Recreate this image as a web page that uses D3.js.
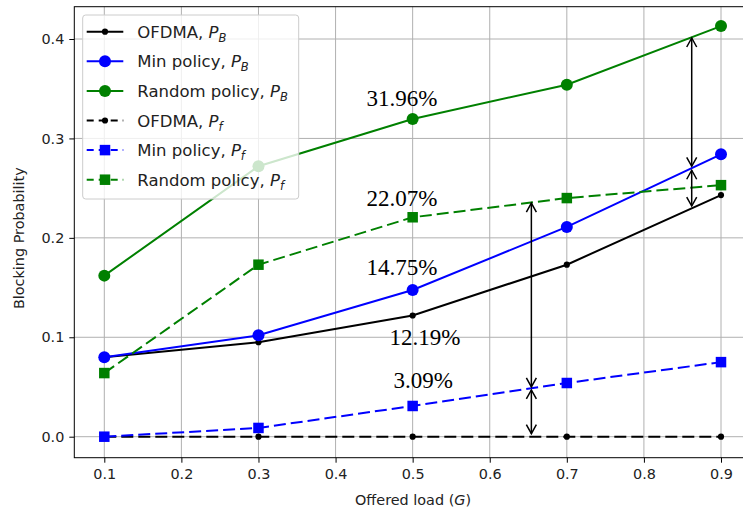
<!DOCTYPE html>
<html>
<head>
<meta charset="utf-8">
<script src="https://cdn.jsdelivr.net/npm/d3@7"></script>
<style>
  body { margin: 0; background: #fff; }
  svg { display: block; }
</style>
</head>
<body>
<svg id="chart" width="743" height="510"></svg>
<script>
// data
const loads = [0.1, 0.3, 0.5, 0.7, 0.9];
const ofdmaPB = [0.080, 0.095, 0.1219, 0.173, 0.243];
const minPB = [0.080, 0.102, 0.1475, 0.211, 0.284];
const randomPB = [0.162, 0.272, 0.3196, 0.354, 0.413];
const ofdmaPf = [0, 0, 0, 0, 0];
const minPf = [0, 0.0088, 0.0309, 0.054, 0.075];
const randomPf = [0.064, 0.173, 0.2207, 0.240, 0.253];

const xTicks = [0.1, 0.2, 0.3, 0.4, 0.5, 0.6, 0.7, 0.8, 0.9];
const yTicks = [0, 0.1, 0.2, 0.3, 0.4];

// gap labels and the double arrows
const gapLabels = ['31.96%', '22.07%', '14.75%', '12.19%', '3.09%'];
const gapLabelX = [0.44, 0.44, 0.44, 0.47, 0.475];
const gapLabelY = [0.333, 0.232, 0.163, 0.092, 0.049];
const arrowX = [0.862, 0.862, 0.654, 0.654];
const arrowFrom = [0.401, 0.268, 0.235, 0.047];
const arrowTo = [0.272, 0.232, 0.050, 0.003];

const series = [
  { name: 'OFDMA, ', sub: 'B', values: ofdmaPB, color: '#000000', dashed: false, marker: 'dot' },
  { name: 'Min policy, ', sub: 'B', values: minPB, color: '#0000ff', dashed: false, marker: 'circle' },
  { name: 'Random policy, ', sub: 'B', values: randomPB, color: '#008000', dashed: false, marker: 'circle' },
  { name: 'OFDMA, ', sub: 'f', values: ofdmaPf, color: '#000000', dashed: true, marker: 'dot' },
  { name: 'Min policy, ', sub: 'f', values: minPf, color: '#0000ff', dashed: true, marker: 'square' },
  { name: 'Random policy, ', sub: 'f', values: randomPf, color: '#008000', dashed: true, marker: 'square' }
];

const svg = d3.select('#chart');
const plotLeft = 74.3, plotRight = 751.8, plotTop = 6.7, plotBottom = 457.7;
const textColor = '#222';
const sansFont = '"DejaVu Sans", sans-serif';

const x = d3.scaleLinear().domain([0.1, 0.9]).range([104.3, 721]);
const y = d3.scaleLinear().domain([0, 0.4]).range([436.7, 39]);

// grid
const grid = svg.append('g').attr('stroke', '#b0b0b0').attr('stroke-width', 1);
grid.selectAll('.gx').data(xTicks).join('line')
  .attr('x1', d => x(d)).attr('x2', d => x(d))
  .attr('y1', plotTop).attr('y2', plotBottom);
grid.selectAll('.gy').data(yTicks).join('line')
  .attr('x1', plotLeft).attr('x2', plotRight)
  .attr('y1', d => y(d)).attr('y2', d => y(d));

// axes
const xAxis = svg.append('g').attr('transform', `translate(0,${plotBottom})`)
  .call(d3.axisBottom(x).tickValues(xTicks).tickFormat(d3.format('.1f')).tickSizeOuter(0).tickSize(5).tickPadding(6));
const yAxis = svg.append('g').attr('transform', `translate(${plotLeft},0)`)
  .call(d3.axisLeft(y).tickValues(yTicks).tickFormat(d3.format('.1f')).tickSizeOuter(0).tickSize(5).tickPadding(5));
[xAxis, yAxis].forEach(ax => {
  ax.select('.domain').remove();
  ax.selectAll('line').attr('stroke', '#000');
  ax.selectAll('text').attr('fill', textColor).style('font-family', sansFont).style('font-size', '14.4px');
});

// spines
svg.append('rect')
  .attr('x', plotLeft).attr('y', plotTop)
  .attr('width', plotRight - plotLeft).attr('height', plotBottom - plotTop)
  .attr('fill', 'none').attr('stroke', '#000').attr('stroke-width', 1);

// axis labels
const xLabel = svg.append('text')
  .attr('x', (plotLeft + plotRight) / 2).attr('y', 505)
  .attr('text-anchor', 'middle').attr('fill', textColor)
  .style('font-family', sansFont).style('font-size', '14.4px');
xLabel.append('tspan').text('Offered load (');
xLabel.append('tspan').attr('font-style', 'italic').text('G');
xLabel.append('tspan').text(')');

svg.append('text')
  .attr('transform', `translate(19,${(plotTop + plotBottom) / 2 + 6}) rotate(-90)`)
  .attr('dy', '0.35em')
  .attr('text-anchor', 'middle').attr('fill', textColor)
  .style('font-family', sansFont).style('font-size', '14.4px')
  .text('Blocking Probability');

function drawMarker(g, kind, color, cx, cy, scale) {
  if (kind === 'dot') {
    g.append('circle').attr('cx', cx).attr('cy', cy).attr('r', 3.1 * scale).attr('fill', color);
  } else if (kind === 'circle') {
    g.append('circle').attr('cx', cx).attr('cy', cy).attr('r', 6 * scale).attr('fill', color);
  } else {
    const s = 10.5 * scale;
    g.append('rect').attr('x', cx - s / 2).attr('y', cy - s / 2).attr('width', s).attr('height', s).attr('fill', color);
  }
}

// lines + markers
const line = d3.line().x((d, i) => x(loads[i])).y(d => y(d));
series.forEach(s => {
  const g = svg.append('g');
  g.append('path')
    .attr('d', line(s.values))
    .attr('fill', 'none')
    .attr('stroke', s.color)
    .attr('stroke-width', 2)
    .attr('stroke-dasharray', s.dashed ? '12,5' : null);
  s.values.forEach((v, i) => drawMarker(g, s.marker, s.color, x(loads[i]), y(v), 1));
});

// double arrows
const arrows = svg.append('g').attr('stroke', '#000').attr('stroke-width', 1.5).attr('fill', 'none');
arrowX.forEach((ax, i) => {
  const px = x(ax), y1 = y(arrowFrom[i]), y2 = y(arrowTo[i]);
  const dir = y2 > y1 ? 1 : -1;
  arrows.append('line').attr('x1', px).attr('x2', px).attr('y1', y1).attr('y2', y2);
  const hl = 9, hw = 5;
  arrows.append('path').attr('d', `M${px - hw},${y1 + dir * hl}L${px},${y1}L${px + hw},${y1 + dir * hl}`);
  arrows.append('path').attr('d', `M${px - hw},${y2 - dir * hl}L${px},${y2}L${px + hw},${y2 - dir * hl}`);
});

// gap labels
svg.append('g').selectAll('text').data(gapLabels).join('text')
  .attr('x', (d, i) => x(gapLabelX[i]))
  .attr('y', (d, i) => y(gapLabelY[i]))
  .attr('fill', '#000')
  .style('font-family', '"Liberation Serif", serif')
  .style('font-size', '23px')
  .text(d => d);

// legend
const legend = svg.append('g');
legend.append('rect')
  .attr('x', 82.7).attr('y', 15).attr('width', 216).attr('height', 184)
  .attr('rx', 3).attr('fill', '#fff').attr('fill-opacity', 0.8)
  .attr('stroke', '#cccccc').attr('stroke-width', 1);
series.forEach((s, i) => {
  const cy = 31.7 + i * 29.6;
  const g = legend.append('g');
  g.append('line')
    .attr('x1', 86.7).attr('x2', 123.3).attr('y1', cy).attr('y2', cy)
    .attr('stroke', s.color).attr('stroke-width', 2)
    .attr('stroke-dasharray', s.dashed ? '7,5' : null);
  drawMarker(g, s.marker, s.color, 105, cy, 1);
  const t = g.append('text')
    .attr('x', 137.3).attr('y', cy + 6)
    .attr('fill', textColor)
    .style('font-family', sansFont).style('font-size', '16.5px');
  t.append('tspan').text(s.name);
  t.append('tspan').attr('font-style', 'italic').text('P');
  t.append('tspan').attr('font-style', 'italic').attr('font-size', '11.5px').attr('dy', 4).text(s.sub);
});
</script>
</body>
</html>
